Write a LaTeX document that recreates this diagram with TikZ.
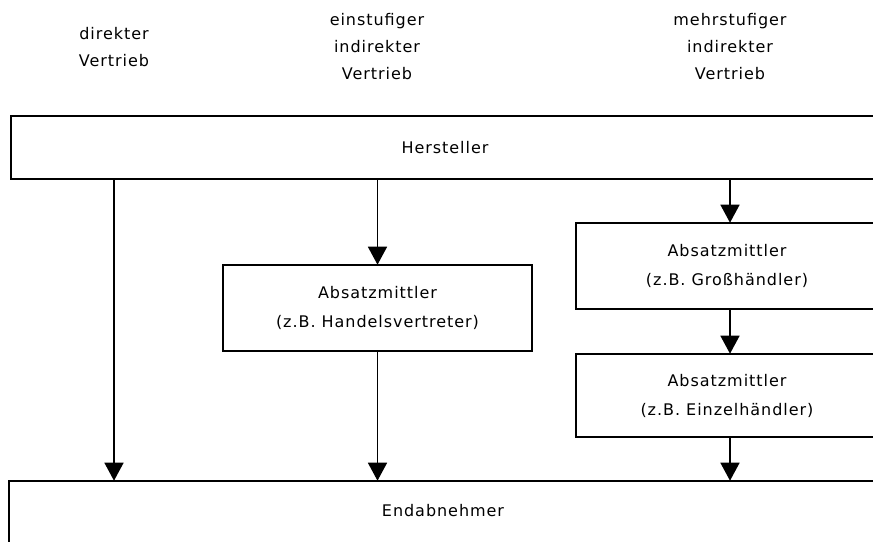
\documentclass[tikz,border=0pt]{standalone}
\usepackage{fontspec}
\setmainfont{DejaVu Sans}[LetterSpace=6]
\usetikzlibrary{arrows.meta}
\begin{document}
\begin{tikzpicture}[x=1pt,y=-1pt,
  every node/.style={font=\fontsize{16}{27}\selectfont, inner sep=0pt, align=center},
  box/.style={draw=black, line width=1.6pt, rectangle},
  head/.style={font=\fontsize{16}{27}\selectfont},
  boxtext/.style={font=\fontsize{16}{29}\selectfont},
  arr/.style={line width=1.6pt, -{Triangle[width=19pt,length=18pt]}, shorten >=-0.5pt}]
\useasboundingbox (0,0) rectangle (873,541);
\clip (0,0) rectangle (873,541);

% column headings
\node[head] (hd) at (114,47) {direkter\\Vertrieb};
\node[head] (he) at (377,47) {einstufiger\\indirekter\\Vertrieb};
\node[head] (hm) at (730,47) {mehrstufiger\\indirekter\\Vertrieb};

% producer and end customer (wide bars running off the right edge)
\node[box, minimum width=889pt, minimum height=63pt] (h) at (455.5,147.5) {};
\node at (445,148) (ht) {Hersteller};
\node[box, minimum width=891pt, minimum height=70pt] (e) at (454.5,516) {};
\node at (443,511) (et) {Endabnehmer};

% intermediaries
\node[box, boxtext, minimum width=309pt, minimum height=86pt] (b1) at (377.5,308)
  {Absatzmittler\\(z.B. Handelsvertreter)};
\node[box, minimum width=324pt, minimum height=86pt] (b2) at (738,266) {};
\node[boxtext] (b2t) at (727,266) {Absatzmittler\\(z.B. Großhändler)};
\node[box, minimum width=324pt, minimum height=83pt] (b3) at (738,395.5) {};
\node[boxtext] (b3t) at (727,395.5) {Absatzmittler\\(z.B. Einzelhändler)};

% distribution channels
\draw[arr] (h.south -| hd.south) -- (e.north -| hd.south);
\draw[arr] (h.south -| b1.north) -- (b1.north);
\draw[arr] (b1.south) -- (e.north -| b1.south);
\draw[arr] (h.south -| hm.south) -- (b2.north -| hm.south);
\draw[arr] (b2.south -| hm.south) -- (b3.north -| hm.south);
\draw[arr] (b3.south -| hm.south) -- (e.north -| hm.south);
\end{tikzpicture}
\end{document}
